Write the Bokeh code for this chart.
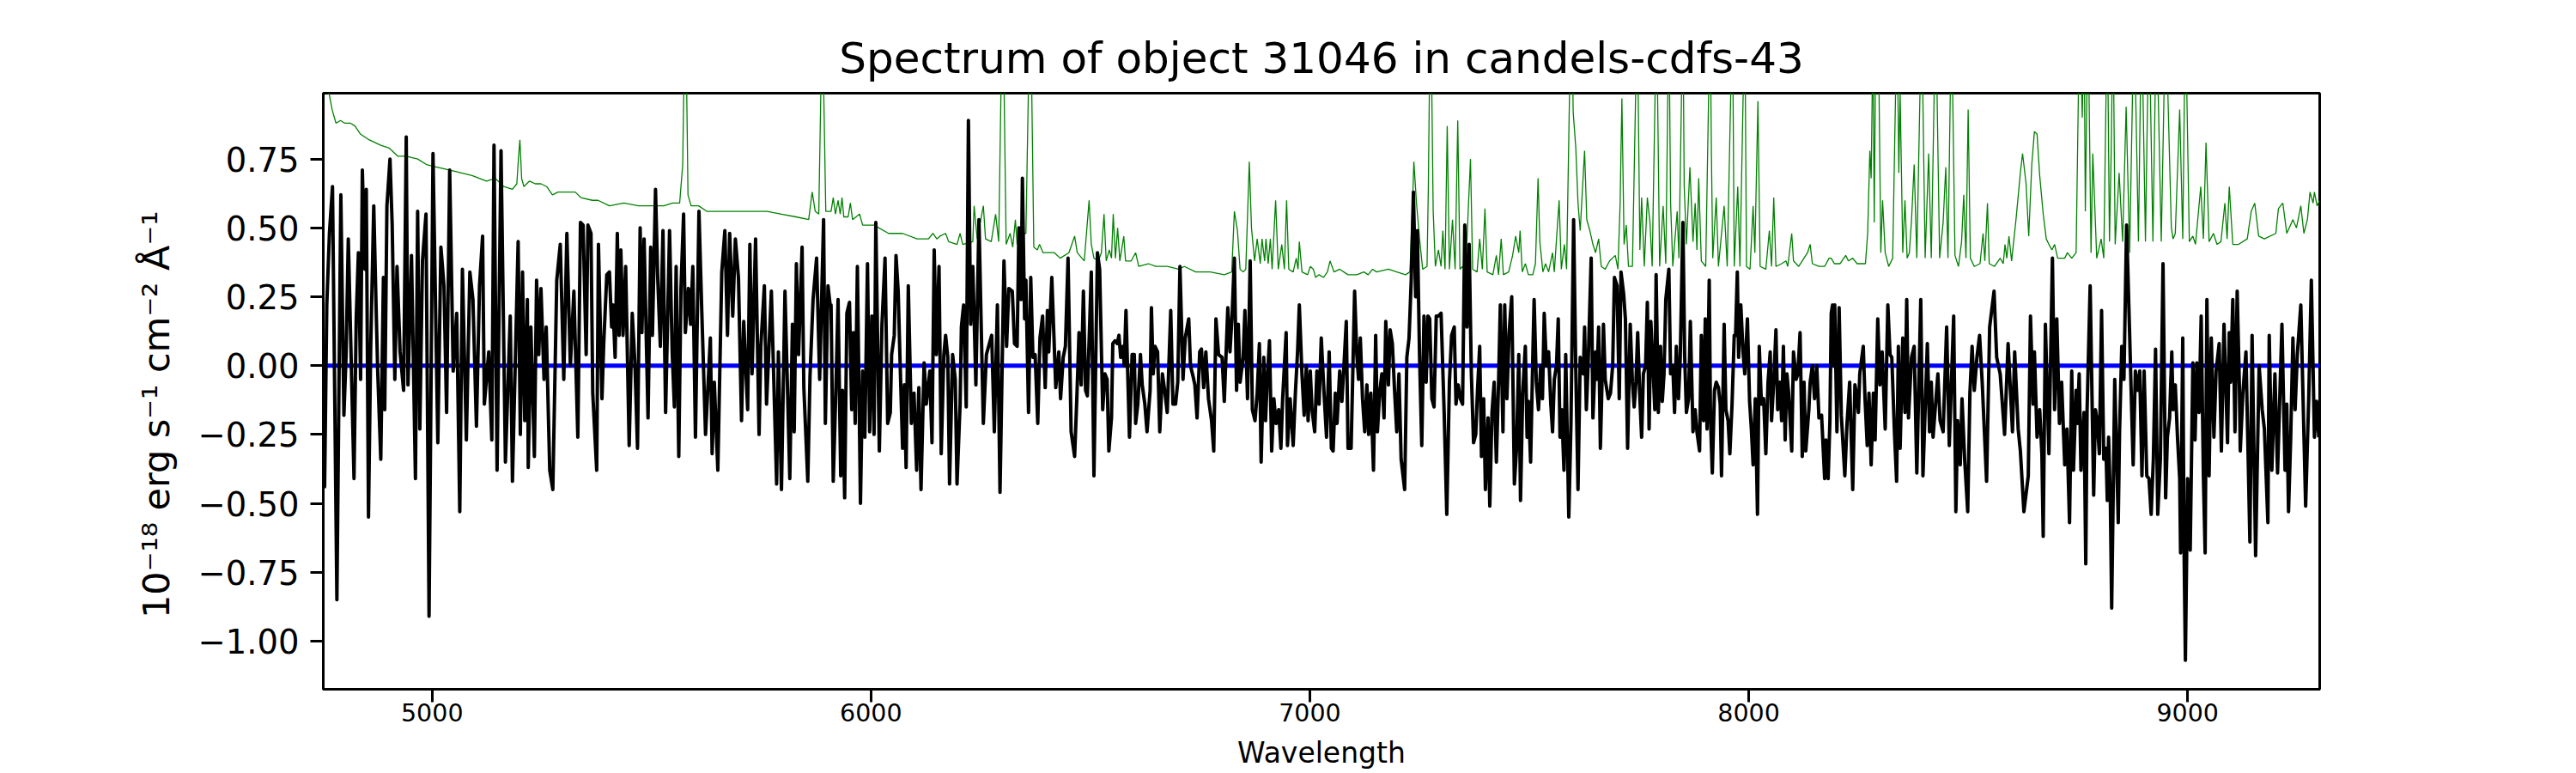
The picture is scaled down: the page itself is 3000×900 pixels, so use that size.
from bokeh.plotting import figure
from bokeh.models import FixedTicker, Range1d
from bokeh.embed import file_html
from bokeh.resources import INLINE

TITLE = "Spectrum of object 31046 in candels-cdfs-43"
X_LABEL = "Wavelength"
Y_LABEL = "10\u207b\u00b9\u2078 erg s\u207b\u00b9 cm\u207b\u00b2 \u00c5\u207b\u00b9"
Y_LABEL_PAD = "\u00a0\u00a0\u00a0\u00a0"  # trailing no-break spaces nudge the rotated label downward

X_TICKS = [5000, 6000, 7000, 8000, 9000]
X_TICK_LABELS = ["5000", "6000", "7000", "8000", "9000"]
Y_TICKS = [-1, -0.75, -0.5, -0.25, 0, 0.25, 0.5, 0.75]
Y_TICK_LABELS = ["\u22121.00", "\u22120.75", "\u22120.50", "\u22120.25", "0.00", "0.25", "0.50", "0.75"]

# observed flux (black)
WAVE_1 = [4752,4755,4760,4766,4773,4783,4792,4799,4804,4809, 4822,4827,4832,4837,4841,4847,4850,4855,4860,4867,
          4873,4876,4883,4889,4892,4897,4904,4909,4915,4920, 4927,4935,4941,4945,4953,4962,4967,4972,4978,4986,
          4993,5002,5013,5020,5027,5033,5040,5048,5056,5063, 5069,5078,5086,5093,5101,5108,5115,5119,5129,5136,
          5141,5148,5157,5167,5178,5183,5196,5201,5206,5211, 5217,5219,5225,5233,5238,5243,5248,5255,5260,5268,
          5275,5284,5292,5300,5307,5315,5323,5332,5338]
FLUX_1 = [-0.02,-0.44,0.22,0.48,0.65,-0.85,0.62,-0.18,0.04,0.46, -0.41,0.17,0.41,-0.05,0.71,0.35,0.64,-0.55,0.06,0.58,
          0.17,-0.02,-0.34,0.32,-0.16,0.58,0.75,0.51,-0.05,0.36, 0.05,-0.09,0.83,-0.07,0.40,-0.41,0.56,-0.23,0.38,0.55,
          -0.91,0.77,-0.28,0.43,0.29,-0.17,0.71,-0.02,0.19,-0.53, 0.35,-0.27,0.34,0.24,-0.22,0.29,0.47,-0.14,0.05,-0.27,
          0.80,-0.38,0.78,-0.35,0.18,-0.42,0.45,-0.25,0.34,-0.20, 0.24,-0.37,0.14,-0.33,0.31,0.04,0.28,-0.05,0.14,-0.38,
          -0.45,0.31,0.44,-0.05,0.48,0.00,0.27,-0.26,0.52]

WAVE_2 = [5344,5351,5355,5362,5366,5375,5379,5387,5391, 5398,5404,5409,5412,5417,5422,5426,5430,5435,5441,
          5449,5456,5462,5468,5474,5478,5483,5492,5498,5502, 5509,5514,5520,5526,5532,5541,5547,5552,5556,5562,
          5567,5573,5577,5584,5589,5594,5600,5608,5614,5623, 5634,5638,5643,5651,5660,5667,5673,5678,5685,5691,
          5698,5705,5710,5719,5724,5729,5737,5745,5749,5757, 5762,5773,5785,5789,5796,5804,5815,5821,5825,5830,
          5835,5843,5847,5856,5861,5868,5876,5883,5892,5896, 5902,5907]
FLUX_2 = [0.51,0.04,0.51,0.48,-0.10,-0.38,0.44,-0.12,0.08, 0.33,0.34,0.14,0.22,0.03,0.48,0.11,0.42,0.11,0.36,
          -0.29,0.19,0.01,-0.30,0.50,0.12,0.46,-0.19,0.43,0.11, 0.64,0.32,0.07,0.49,-0.17,0.49,0.05,-0.15,0.36,-0.33,
          0.28,0.55,0.12,0.28,0.15,0.36,-0.26,0.56,0.22,-0.25, 0.10,-0.32,-0.06,-0.38,0.34,0.49,0.11,0.48,0.18,0.46,
          0.32,-0.20,0.16,-0.16,0.44,-0.03,0.46,-0.25,0.07,0.29, -0.14,0.27,-0.43,0.05,-0.45,0.27,-0.41,0.15,-0.24,0.37,
          0.04,0.43,-0.08,-0.42,-0.04,0.24,0.39,-0.05,0.53,-0.21, 0.29,0.22]

WAVE_3 = [5909,5914,5920,5925,5931,5935,5940,5945,5951,5956, 5960,5964,5969,5976,5981,5986,5992,5997,6002,6007,
          6011,6019,6025,6032,6038,6044,6047,6053,6057,6062, 6066,6072,6076,6080,6085,6092,6098,6104,6109,6114,
          6121,6126,6134,6139,6144,6149,6155,6160,6166,6170, 6175,6179,6186,6192,6196,6203,6206,6211,6217,6222,
          6227,6232,6239,6246,6252,6256,6263,6268,6275,6281, 6288,6294,6303,6309,6314,6322,6327,6333,6337,6342,
          6345,6350,6353,6359,6364,6369,6374,6380,6385,6391, 6397,6402,6405,6412,6417,6421,6428,6432,6438,6443,
          6449,6456,6464,6469,6474,6479]
FLUX_3 = [0.22,-0.42,-0.09,0.24,-0.40,-0.09,-0.48,0.19,0.23,-0.16, 0.12,-0.21,0.36,-0.50,-0.02,-0.26,0.37,-0.24,0.18,-0.25,
          0.52,-0.31,0.15,0.39,-0.21,-0.17,0.04,0.11,0.40,0.27, 0.03,-0.30,-0.07,-0.37,0.29,-0.21,-0.10,-0.38,-0.08,-0.45,
          0.01,-0.14,-0.02,-0.28,0.42,0.04,0.36,-0.32,0.04,0.11, 0.03,-0.43,0.04,-0.05,-0.43,-0.14,0.14,0.22,-0.15,0.89,
          0.15,0.36,-0.07,0.53,0.08,-0.21,0.04,0.07,0.11,-0.24, 0.22,-0.46,0.38,0.07,0.28,0.27,0.08,0.07,0.50,0.24,
          0.68,0.17,0.31,-0.17,0.32,0.03,0.04,-0.21,0.10,0.18, -0.08,0.20,0.05,0.32,0.10,-0.08,0.05,-0.12,0.03,0.07,
          0.39,-0.24,-0.33,-0.12,0.12,-0.07]

WAVE_4 = [6484,6489,6493,6502,6508,6516,6521,6528,6533, 6538,6542,6548,6551,6556,6561,6565,6569,6574,6577,
          6581,6589,6595,6600,6603,6608,6614,6618,6624,6629, 6636,6639,6643,6647,6653,6658,6664,6670,6675,6683,
          6688,6694,6699,6704,6711,6716,6724,6728,6734,6738, 6743,6749,6753,6758,6763,6769,6776,6781,6786,6792,
          6800,6805,6813,6818,6823,6828,6833,6837,6841,6848, 6852,6858,6864,6869,6875,6880,6885,6889,6895,6899,
          6903,6908,6913,6918,6923,6929,6934,6938,6946,6949, 6955,6962,6967,6972,6976,6982,6987,6992,6996,7001,
          7005,7011,7016,7021,7026,7032,7038,7044,7049]
FLUX_4 = [0.27,-0.09,-0.11,0.34,-0.40,0.41,0.35,-0.16,-0.03, -0.05,-0.31,-0.19,0.08,0.09,0.08,0.11,0.03,0.07,0.00,
          0.20,-0.26,0.04,0.04,-0.21,-0.14,0.04,-0.07,-0.14,-0.24, -0.09,0.21,-0.03,0.07,0.05,-0.24,-0.03,-0.10,-0.17,0.20,
          -0.14,-0.14,-0.06,0.36,-0.05,0.10,0.17,0.00,-0.04,-0.07, -0.19,0.05,0.06,-0.08,0.05,-0.12,-0.20,-0.31,0.17,0.04,
          0.03,-0.13,0.21,0.05,0.19,0.39,-0.09,0.15,-0.06,0.03, 0.20,-0.12,0.38,-0.16,-0.20,-0.10,0.08,-0.35,0.03,-0.20,
          -0.05,0.09,-0.31,-0.12,-0.21,-0.16,-0.30,-0.12,0.12,-0.29, -0.12,-0.29,-0.10,0.05,0.22,-0.03,-0.18,0.00,-0.20,-0.02,
          -0.16,-0.24,-0.02,-0.14,0.10,-0.09,-0.26,0.05,-0.30]

WAVE_5 = [7053,7058,7062,7068,7073,7077,7083,7087,7094, 7102,7107,7111,7115,7120,7125,7130,7134,7139,7145,
          7150,7154,7159,7164,7169,7173,7179,7183,7188,7193, 7198,7203,7208,7216,7221,7226,7231,7236,7241,7245,
          7250,7255,7260,7265,7269,7273,7278,7283,7288,7293, 7299,7306,7312,7318,7323,7329,7333,7338,7343,7348,
          7353,7358,7363,7368,7373,7378,7382,7387,7391,7396, 7400,7406,7410,7415,7420,7425,7430,7434,7440,7444,
          7449,7454,7460,7466,7471,7476,7480,7485,7491,7495, 7498,7503,7508,7511,7516,7521,7526,7530,7534,7539,
          7544,7549,7553,7557,7562,7566,7570,7574,7579,7583, 7590,7595,7601,7606,7611,7616]
FLUX_5 = [-0.31,-0.10,-0.21,-0.02,-0.13,-0.02,0.16,-0.30,-0.30, 0.27,0.04,-0.05,0.10,-0.12,-0.24,-0.07,-0.25,-0.10,-0.38,
          0.11,-0.24,-0.10,-0.03,-0.19,0.16,-0.07,0.13,0.08,-0.09, -0.24,-0.03,-0.34,-0.45,0.03,0.10,0.31,0.63,0.25,0.49,
          0.03,-0.29,0.18,-0.06,0.18,0.17,-0.12,-0.15,0.18,0.18, 0.19,-0.17,-0.54,-0.06,0.11,0.14,-0.14,-0.07,-0.12,-0.14,
          0.51,0.14,0.44,-0.03,-0.28,-0.25,-0.09,0.07,-0.33,-0.12, -0.45,-0.19,-0.51,-0.17,-0.06,-0.35,-0.06,0.22,-0.24,0.22,
          -0.12,0.12,0.25,-0.43,-0.30,0.04,-0.49,-0.10,0.07,-0.26, -0.13,-0.35,0.03,0.24,-0.06,-0.16,0.00,-0.12,0.19,0.00,
          0.05,-0.14,-0.24,-0.05,0.00,0.17,-0.26,-0.16,-0.38,0.04, -0.55,-0.21,0.53,-0.02,-0.45,0.03]

WAVE_6 = [7623,7626,7630,7634,7641,7645,7651,7654,7658,7662, 7669,7673,7680,7685,7690,7694,7700,7705,7709,7715,
          7719,7724,7730,7735,7739,7743,7747,7752,7756,7760, 7765,7769,7773,7777,7781,7786,7789,7794,7799,7803,
          7807,7811,7818,7822,7827,7831,7835,7840,7844,7850, 7854,7858,7863,7867,7873,7878,7882,7888,7892,7897,
          7901,7905,7910,7913,7917,7922,7926,7931,7935,7938, 7944,7948,7953,7957,7962,7967,7970,7974,7977,7982,
          7987,7991,7997,8002,8006,8010,8015,8020,8024,8029, 8034,8039,8044,8049,8052,8057,8062,8066,8071,8075,
          8079,8083,8087,8091,8098,8102,8108,8112,8117,8122, 8126,8130,8137,8140,8145,8150,8155,8160,8166,8173,
          8176,8181,8185,8188]
FLUX_6 = [-0.03,0.14,-0.16,0.00,0.39,-0.19,0.05,-0.05,0.14,-0.30, 0.15,-0.05,-0.12,-0.10,0.00,0.32,0.29,-0.12,0.34,0.26,
          0.17,-0.30,0.15,-0.06,-0.15,-0.06,0.12,-0.12,-0.26,-0.03, 0.00,0.23,-0.23,0.16,0.03,-0.16,0.33,-0.17,0.07,-0.13,
          -0.03,0.24,0.35,-0.03,0.00,-0.17,0.07,-0.12,0.03,0.52, 0.04,-0.17,-0.12,0.16,-0.24,-0.16,-0.24,-0.31,0.11,-0.20,
          0.17,-0.23,0.31,-0.20,-0.39,-0.09,-0.06,-0.08,-0.14,-0.40, 0.15,-0.16,-0.20,-0.32,-0.14,0.11,0.11,0.34,0.03,0.22,
          0.05,-0.03,0.17,-0.13,-0.23,-0.36,-0.12,-0.54,0.07,-0.14, -0.12,-0.32,-0.06,0.05,-0.20,-0.06,0.13,-0.16,-0.06,-0.20,
          0.07,-0.27,-0.03,-0.10,-0.31,0.05,-0.05,-0.03,0.12,-0.33, -0.06,-0.31,-0.16,-0.06,0.00,-0.12,0.00,-0.19,-0.18,-0.41,
          -0.27,-0.41,-0.20,0.19]

WAVE_7 = [8191,8194,8196,8201,8206,8211,8219,8224,8230,8237, 8242,8247,8250,8253,8261,8265,8270,8274,8279,8284,
          8288,8294,8299,8304,8311,8317,8322,8326,8332,8337, 8341,8345,8351,8356,8360,8364,8371,8377,8383,8392,
          8397,8407,8412,8416,8420,8431,8436,8443,8451,8457, 8467,8472,8476,8482,8486,8492,8499,8504,8509,8514,
          8520,8526,8532,8542,8549,8559,8565,8573,8583,8591, 8601,8606,8614,8619,8627,8637,8642,8648,8651,8657,
          8663,8668,8671,8676,8684,8692,8697,8702,8708,8713, 8720,8725,8731,8736,8740,8746,8749,8753,8757]
FLUX_7 = [0.22,0.00,0.22,-0.24,0.21,-0.18,-0.40,-0.21,-0.06,-0.45, -0.07,-0.12,-0.17,-0.03,0.07,-0.12,-0.29,-0.10,-0.36,-0.10,
          -0.27,0.17,-0.07,0.05,-0.23,0.22,0.04,0.03,-0.24,-0.42, 0.07,-0.30,0.10,-0.17,0.24,-0.19,0.03,0.07,-0.39,0.24,
          -0.40,0.08,-0.24,-0.06,-0.26,-0.03,-0.20,-0.24,0.14,-0.29, 0.18,-0.53,-0.20,-0.36,-0.12,-0.34,-0.53,-0.10,0.07,-0.09,
          0.03,0.11,-0.06,-0.42,0.14,0.27,0.03,-0.03,-0.25,0.08, -0.24,0.05,-0.23,-0.31,-0.53,-0.40,0.18,-0.14,0.05,-0.26,
          -0.16,-0.32,-0.62,0.15,-0.32,0.39,-0.16,0.17,-0.21,-0.06, -0.36,-0.23,-0.57,-0.02,-0.38,-0.09,-0.21,-0.03,-0.38]

WAVE_8 = [8764,8768,8771,8778,8786,8790,8794,8799,8804, 8809,8814,8817,8820,8824,8827,8834,8842,8845,8850,
          8855,8861,8868,8876,8881,8886,8891,8896,8901,8907, 8912,8917,8922,8927,8932,8938,8944,8950,8954,8959,
          8964,8967,8972,8977,8982,8984,8989,8992,8995,9000, 9006,9012,9017,9021,9026,9031,9036,9040,9044,9049,
          9054,9060,9065,9072,9077,9083,9091,9095,9098,9103, 9108,9113,9118,9120,9126,9133,9142,9147,9155,9163,
          9170,9175,9183,9186,9192,9199,9205,9215,9222,9226, 9230,9235,9240,9245,9250,9258,9269,9276,9282,9289,
          9294,9299]
FLUX_8 = [-0.17,-0.72,-0.16,0.29,-0.47,-0.16,-0.20,-0.32,0.20, -0.34,-0.30,-0.49,-0.26,-0.49,-0.88,-0.05,-0.57,-0.24,0.07,
          -0.05,0.51,0.11,-0.36,-0.02,-0.09,-0.02,-0.40,-0.02,-0.40, -0.41,-0.54,-0.34,0.06,-0.54,-0.34,0.37,-0.48,-0.26,-0.19,
          0.05,-0.16,-0.07,-0.26,-0.41,-0.68,0.10,-0.67,-1.07,-0.41, -0.67,0.01,-0.27,0.01,-0.17,0.18,-0.40,-0.68,0.24,-0.40,
          0.10,-0.26,-0.02,0.08,-0.31,0.15,-0.28,0.12,-0.06,0.24, -0.24,0.27,-0.07,-0.31,-0.10,0.05,-0.64,0.11,-0.69,0.00,
          -0.16,-0.23,-0.57,0.11,-0.38,-0.03,-0.39,0.15,-0.38,-0.14, -0.53,-0.26,0.10,-0.16,0.04,0.22,-0.51,-0.12,0.31,-0.26,
          -0.13,-0.26]

# noise / sky spectrum (green)
SKY_WAVE_1 = [4753,4765,4772,4781,4791,4801,4814,4824,4837,4856, 4883,4902,4922,4941,4967,4987,5013,5039,5065,5091,
              5124,5144,5163,5183,5193,5197,5200,5204,5209,5222, 5235,5248,5261,5274,5287,5307,5326,5339,5365,5378,
              5404,5437,5470,5502,5528,5548,5564,5571,5577,5583, 5590,5607,5626,5652,5691,5731,5763,5796,5829,5858,
              5866,5873,5881,5889,5893,5897,5909]
SKY_FLUX_1 = [1.25,0.99,0.93,0.88,0.89,0.88,0.88,0.87,0.84,0.82, 0.80,0.79,0.76,0.76,0.75,0.73,0.72,0.71,0.70,0.69,
              0.67,0.68,0.65,0.64,0.66,0.76,0.82,0.68,0.65,0.67, 0.66,0.66,0.65,0.62,0.63,0.63,0.63,0.61,0.60,0.60,
              0.58,0.59,0.58,0.58,0.58,0.59,0.59,0.73,1.4,0.62, 0.58,0.58,0.56,0.56,0.56,0.56,0.56,0.55,0.54,0.53,
              0.63,0.56,0.55,1.3,0.93,0.56,0.56]

SKY_WAVE_2 = [5914,5919,5925,5930,5934,5938,5948,5953,5958,5974, 5981,6007,6040,6072,6105,6131,6141,6150,6157,6170,
              6177,6196,6203,6209,6232,6235,6242,6256,6261,6274, 6284,6291,6300,6308,6317,6323,6329,6333,6343,6353,
              6363,6371,6379,6384,6392,6418,6431,6451,6464,6470, 6486,6497,6502,6508,6518,6525,6531,6536,6543,6548,
              6552,6557,6562,6567,6576,6580,6593,6603,6610,6632, 6649,6675,6701,6714,6740,6773,6805,6822,6828,6835,
              6841,6848,6854,6862,6867,6874,6880,6887,6891,6897, 6900,6905,6910,6914,6922,6928,6936,6942,6947,6952,
              6962,6969,6973,6976,6982,6995,7001,7008,7013,7021, 7031,7040,7046]
SKY_FLUX_2 = [0.61,0.55,0.60,0.55,0.61,0.54,0.54,0.59,0.53,0.55, 0.51,0.51,0.48,0.48,0.46,0.46,0.48,0.46,0.47,0.48,
              0.45,0.44,0.48,0.44,0.45,0.58,0.46,0.58,0.46,0.45, 0.55,0.45,1.4,0.44,0.48,0.43,0.53,0.44,0.48,0.48,
              1.4,0.43,0.42,0.44,0.41,0.41,0.39,0.41,0.47,0.41, 0.38,0.60,0.44,0.39,0.38,0.41,0.55,0.38,0.42,0.39,
              0.55,0.39,0.50,0.38,0.47,0.38,0.38,0.41,0.36,0.37, 0.36,0.36,0.35,0.36,0.34,0.34,0.33,0.34,0.56,0.49,
              0.35,0.34,0.35,0.74,0.50,0.38,0.46,0.37,0.46,0.38, 0.46,0.37,0.46,0.35,0.60,0.35,0.44,0.35,0.60,0.35,
              0.34,0.39,0.35,0.45,0.34,0.33,0.36,0.35,0.32,0.33, 0.32,0.34,0.38]

SKY_WAVE_3 = [7055,7068,7087,7107,7123,7133,7143,7152,7179,7198, 7218,7228,7234,7237,7243,7250,7257,7267,7270,7275,
              7281,7286,7293,7299,7303,7308,7313,7318,7325,7331, 7337,7342,7348,7355,7366,7371,7381,7387,7393,7399,
              7404,7417,7425,7430,7436,7441,7453,7462,7469,7476, 7479,7484,7491,7498,7508,7514,7520,7524,7531,7537,
              7544,7553,7557,7568,7573,7580,7585,7596,7600,7606, 7611,7616]
SKY_FLUX_3 = [0.34,0.35,0.33,0.33,0.34,0.33,0.35,0.34,0.35,0.34, 0.33,0.34,0.59,0.74,0.59,0.46,0.35,0.36,0.65,1.4,
              0.56,0.36,0.42,0.36,0.49,0.35,0.87,0.35,0.53,0.35, 0.89,0.35,0.36,0.35,0.75,0.35,0.34,0.46,0.35,0.57,
              0.34,0.33,0.40,0.33,0.46,0.33,0.34,0.40,0.47,0.41, 0.49,0.34,0.37,0.33,0.33,0.37,0.68,0.45,0.34,0.37,
              0.34,0.41,0.34,0.60,0.35,0.44,0.35,1.4,0.92,0.79, 0.59,0.49]

SKY_WAVE_4 = [7626,7631,7638,7645,7651,7658,7664,7673,7683,7696, 7702,7707,7711,7716,7721,7726,7735,7746,7752,7756,
              7762,7769,7775,7780,7790,7797,7805,7811,7818,7822, 7827,7837,7841,7850,7853,7858,7866,7873,7878,7882,
              7886,7892,7902,7912,7915,7918,7926,7931,7944,7951, 7963,7967,7975,7980,7991,7995,8003,8010,8014,8021,
              8026,8039,8047,8052,8057,8062,8075,8085,8089,8098, 8102,8114,8134,8140,8145,8160,8173,8183]
SKY_FLUX_4 = [0.78,0.53,0.49,0.44,0.41,0.46,0.36,0.35,0.38,0.40, 0.35,0.59,0.97,0.44,0.51,0.36,0.36,1.3,0.42,0.61,
              0.36,0.61,0.52,0.36,1.3,0.36,0.58,0.37,1.3,0.59, 0.36,0.56,0.39,1.3,0.65,0.44,0.72,0.45,0.59,0.42,
              0.68,0.38,0.36,1.3,0.77,0.39,0.61,0.36,0.58,0.36, 1.3,0.36,0.65,0.36,1.3,0.36,0.35,0.58,0.41,0.96,
              0.36,0.35,0.49,0.36,0.61,0.36,0.37,0.38,0.36,0.48, 0.38,0.36,0.41,0.44,0.37,0.36,0.36,0.39]

SKY_WAVE_5 = [8188,8195,8208,8221,8227,8237,8247,8266,8271,8276, 8279,8283,8286,8290,8297,8301,8305,8311,8319,8328,
              8338,8342,8345,8351,8356,8361,8366,8371,8377,8383, 8394,8402,8410,8416,8426,8435,8443,8449,8454,8462,
              8470,8478,8485,8490,8495,8500,8505,8514,8527,8534, 8538,8544,8548,8560,8573,8580,8584,8588,8593,8599,
              8609,8619,8624,8632,8638,8645,8651,8657,8663,8671, 8678,8684,8691,8697,8704,8710,8720,8726,8736,8746,
              8754,8760]
SKY_FLUX_5 = [0.39,0.37,0.37,0.40,0.38,0.39,0.37,0.37,0.48,0.78, 0.68,1.2,0.52,1.3,0.99,0.41,0.60,0.41,0.36,0.39,
              1.3,0.70,0.99,0.41,0.60,0.39,0.41,0.53,0.73,0.39, 1.3,0.39,0.77,0.39,1.3,0.39,0.52,0.72,0.39,1.3,
              0.40,0.36,0.45,0.62,0.39,0.93,0.39,0.36,0.37,0.48, 0.38,0.59,0.37,0.36,0.39,0.37,0.44,0.39,0.47,0.38,
              0.53,0.70,0.77,0.66,0.47,0.73,0.85,0.84,0.69,0.55, 0.46,0.44,0.42,0.44,0.39,0.39,0.39,0.41,0.39,0.41,
              1.3,0.9]

SKY_WAVE_6 = [8764,8767,8773,8780,8784,8793,8803,8809,8817,8822, 8826,8830,8835,8844,8852,8860,8868,8878,8888,8895,
              8904,8912,8921,8929,8940,8950,8963,8967,8972,8982, 8989,8995,9004,9012,9018,9030,9036,9042,9049,9059,
              9067,9076,9085,9090,9095,9103,9116,9136,9145,9153, 9162,9175,9201,9207,9217,9226,9240,9248,9258,9265,
              9273,9279,9286,9289,9295,9301]
SKY_FLUX_6 = [1.3,0.56,1.3,0.41,0.77,0.39,0.46,0.39,1.3,0.45, 0.78,1.3,0.44,0.70,0.45,0.94,0.41,1.3,0.45,1.3,
              0.45,1.3,0.45,1.3,0.45,1.3,0.50,0.46,0.48,0.93, 0.46,1.3,0.45,0.47,0.44,0.65,0.46,0.81,0.45,0.48,
              0.44,0.45,0.59,0.46,0.65,0.44,0.44,0.46,0.56,0.59, 0.47,0.46,0.48,0.57,0.59,0.48,0.53,0.50,0.58,0.48,
              0.53,0.63,0.59,0.63,0.58,0.60]

# model (blue)
MODEL_WAVE = [4752, 9301]
MODEL_FLUX = [0.0, 0.0]

X_MIN, X_MAX = 4752, 9301
Y_MIN, Y_MAX = -1.175, 0.989

wave = WAVE_1 + WAVE_2 + WAVE_3 + WAVE_4 + WAVE_5 + WAVE_6 + WAVE_7 + WAVE_8
flux = FLUX_1 + FLUX_2 + FLUX_3 + FLUX_4 + FLUX_5 + FLUX_6 + FLUX_7 + FLUX_8
sky_wave = SKY_WAVE_1 + SKY_WAVE_2 + SKY_WAVE_3 + SKY_WAVE_4 + SKY_WAVE_5 + SKY_WAVE_6
sky_flux = SKY_FLUX_1 + SKY_FLUX_2 + SKY_FLUX_3 + SKY_FLUX_4 + SKY_FLUX_5 + SKY_FLUX_6

FONT = "DejaVu Sans"

p = figure(width=3000, height=900, output_backend="svg", toolbar_location=None,
           x_range=Range1d(X_MIN, X_MAX), y_range=Range1d(Y_MIN, Y_MAX),
           min_border_left=376, min_border_right=299, min_border_top=108, min_border_bottom=98,
           title=TITLE)
p.title.text_font = FONT
p.title.text_font_size = "50px"
p.title.text_font_style = "normal"
p.title.text_color = "black"
p.title.align = "center"
p.title.standoff = 24

p.grid.visible = False
p.outline_line_color = "black"
p.outline_line_width = 3
p.background_fill_color = "white"
p.border_fill_color = "white"

for ax in (p.xaxis[0], p.yaxis[0]):
    ax.axis_line_color = "black"
    ax.axis_line_width = 3
    ax.major_tick_out = 15
    ax.major_tick_in = 0
    ax.major_tick_line_width = 3
    ax.major_tick_line_color = "black"
    ax.minor_tick_line_color = None
    ax.major_label_text_font = FONT
    ax.major_label_text_color = "black"
    ax.axis_label_text_font = FONT
    ax.axis_label_text_font_style = "normal"
    ax.axis_label_text_color = "black"

p.xaxis.ticker = FixedTicker(ticks=X_TICKS)
p.xaxis.major_label_overrides = dict(zip(X_TICKS, X_TICK_LABELS))
p.xaxis.major_label_text_font_size = "28.5px"
p.xaxis.major_label_standoff = 1
p.xaxis.axis_label = X_LABEL
p.xaxis.axis_label_text_font_size = "33px"
p.xaxis.axis_label_standoff = 14

p.yaxis.ticker = FixedTicker(ticks=Y_TICKS)
p.yaxis.major_label_overrides = dict(zip(Y_TICKS, Y_TICK_LABELS))
p.yaxis.major_label_text_font_size = "38.5px"
p.yaxis.major_label_standoff = 13
p.yaxis.axis_label = Y_LABEL + Y_LABEL_PAD
p.yaxis.axis_label_text_font_size = "43px"
p.yaxis.axis_label_standoff = 21

p.line(sky_wave, sky_flux, line_color="green", line_width=1.3)
p.line(MODEL_WAVE, MODEL_FLUX, line_color="blue", line_width=5)
p.line(wave, flux, line_color="black", line_width=4, line_join="round")

open("out.html", "w").write(file_html(p, INLINE))
